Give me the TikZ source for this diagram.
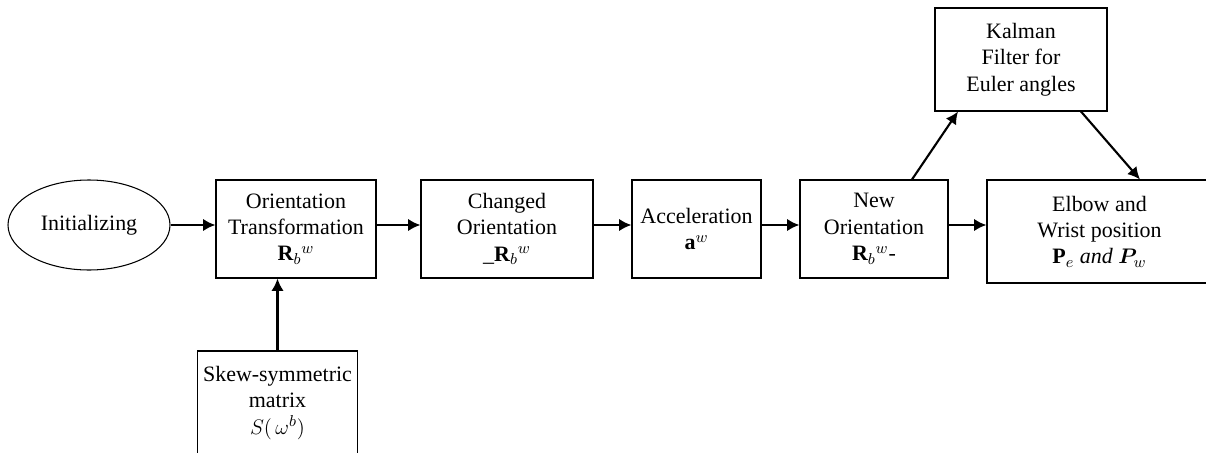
\documentclass[tikz,border=0pt]{standalone}
\usepackage{amsmath,amssymb,bm}
\usepackage{fontspec}
\setmainfont{Liberation Serif}
\usepackage{tikz}
\usetikzlibrary{positioning}
\usetikzlibrary{shapes.geometric, arrows, arrows.meta}
\tikzstyle{block} = [rectangle, draw=black, line width=0.6pt, align=center, text centered, minimum height=1.96cm, font=\rmfamily\fontsize{12.5}{15}\selectfont]
\tikzstyle{arrow} = [line width=1.2pt,-{Latex[length=7pt,width=7pt]}]

\begin{document}
\begin{tikzpicture}[]
    \useasboundingbox (0,0) rectangle (24.12,-9.06);
    \node[ellipse,draw=black,line width=0.6pt,minimum width=3.24cm,minimum height=1.8cm,font=\rmfamily\fontsize{12.5}{15}\selectfont] (init) at (1.78,-4.5) {Initializing};
    \node[block,minimum width=3.2cm] (ot) at (5.92,-4.58) {Orientation\\Transformation\\$\mathbf{R}_b{}^{w}$};
    \node[block,minimum width=3.44cm] (co) at (10.14,-4.58) {Changed\\Orientation\\\_$\mathbf{R}_b{}^{w}$};
    \node[block,minimum width=2.58cm] (acc) at (13.93,-4.58) {Acceleration\\$\mathbf{a}^{w}$};
    \node[block,minimum width=2.96cm] (no) at (17.48,-4.58) {New\\Orientation\\$\mathbf{R}_b{}^{w}$-};
    \node[block,minimum width=4.5cm,minimum height=2.06cm] (eb) at (21.99,-4.63) {Elbow and\\Wrist position\\$\mathbf{P}_e$ \textit{and} $\bm{P}_w$};
    \node[block,minimum width=3.44cm,minimum height=2.06cm] (kf) at (20.42,-1.19) {Kalman\\Filter for\\Euler angles};
    \node[block,minimum width=2.9cm,minimum height=2.08cm] (sk) at (5.55,-8.06) {Skew-symmetric\\matrix\\$S(\,\omega^{b})$};

    \draw[arrow] (init.east) -- (init.east -| ot.west);
    \draw[arrow] ([yshift=0.08cm]ot.east) -- ([yshift=0.08cm]co.west);
    \draw[arrow] ([yshift=0.08cm]co.east) -- ([yshift=0.08cm]acc.west);
    \draw[arrow] ([yshift=0.08cm]acc.east) -- ([yshift=0.08cm]no.west);
    \draw[arrow] ([yshift=0.08cm]no.east) -- ([yshift=0.08cm]no.east -| eb.west);
    \draw[arrow] (sk.north) -- (sk.north |- ot.south);
    \draw[arrow] ([xshift=0.76cm]no.north) -- ([xshift=-1.26cm]kf.south);
    \draw[arrow] ([xshift=1.2cm]kf.south) -- ([xshift=0.81cm]eb.north);

\end{tikzpicture}
\end{document}
